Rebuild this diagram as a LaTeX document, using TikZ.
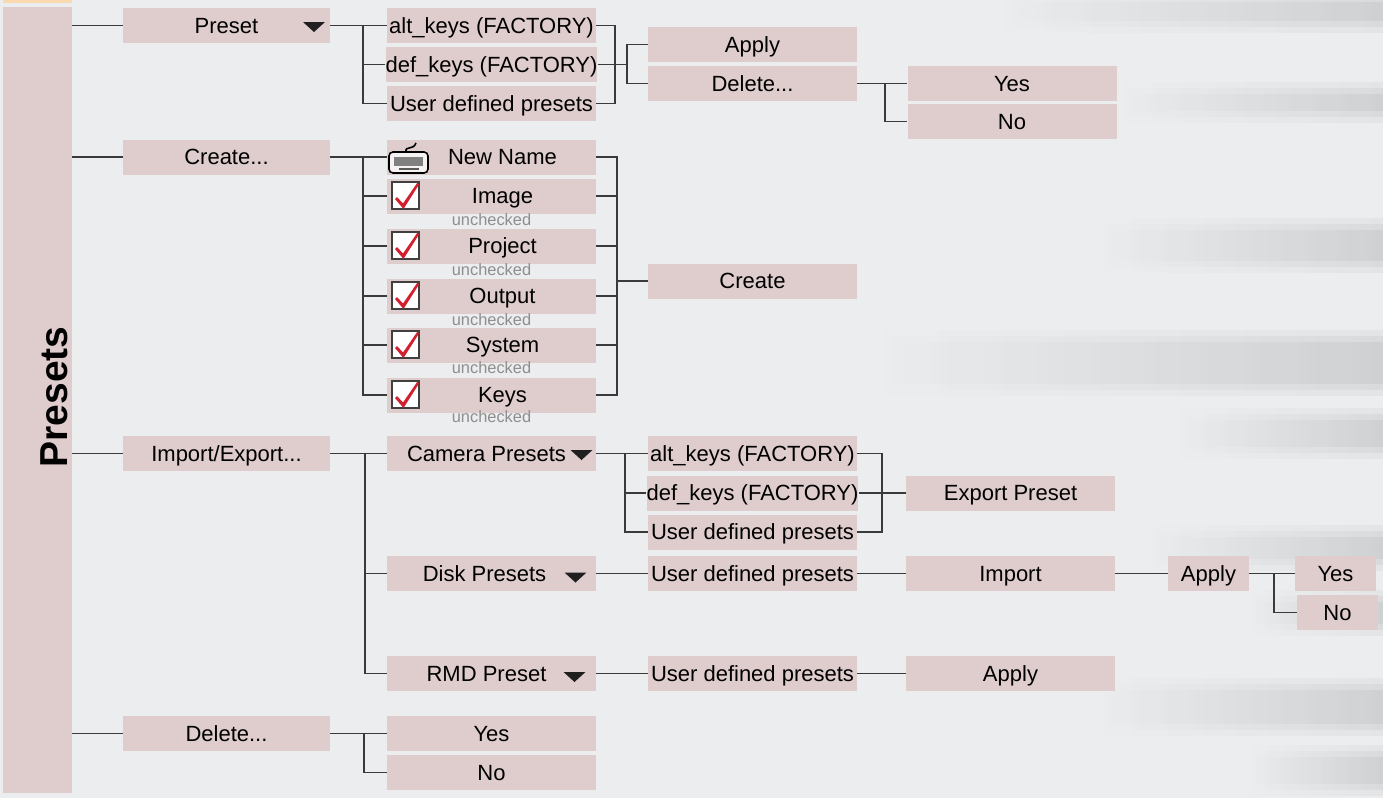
\documentclass[tikz,border=0pt]{standalone}
\usepackage{fontspec}
\setmainfont{Liberation Sans}
\usetikzlibrary{positioning}

\definecolor{boxpink}{HTML}{DFCCCD}
\definecolor{bg}{HTML}{ECEDEF}
\definecolor{streak}{HTML}{B4B5B7}
\definecolor{wirecol}{HTML}{3A3A3A}
\definecolor{notegray}{HTML}{8E8E8E}
\definecolor{checkred}{HTML}{D2202F}
\definecolor{peach}{HTML}{F8D9B0}

\tikzset{
  menubox/.style={fill=boxpink, minimum width=104.5pt, minimum height=17.5pt,
    inner sep=0pt, text height=9.5pt, text depth=2pt, font=\fontsize{11}{13}\selectfont},
  shortbox/.style={menubox, minimum width=40.5pt},
  wire/.style={draw=wirecol, line width=0.65pt},
  note/.style={font=\fontsize{8.2}{9}\selectfont, text=notegray, inner sep=0pt},
}

\begin{document}
\begin{tikzpicture}[x=0.5pt, y=-0.5pt]
\useasboundingbox (0,0) rectangle (1383,798);
\fill[bg] (0,0) rectangle (1383,798);

% streaks of the background
\foreach \xa/\ya/\yb in {1000/0/22, 1120/92/112, 1100/228/262, 880/340/385,
  1180/418/448, 1150/535/560, 1250/600/625, 1100/688/725, 1250/755/785}
{
	\shade[left color=bg, right color=streak, opacity=0.15] (\xa,{\ya-10}) rectangle (1383,{\yb+10});
	\shade[left color=bg, right color=streak, opacity=0.2] (\xa,{\ya-4}) rectangle (1383,{\yb+4});
	\shade[left color=bg, right color=streak, opacity=0.25] (\xa,{\ya+2}) rectangle (1383,{\yb-2});
}

% left column
\fill[peach] (3,0) rectangle (72,2.5);
\node[fill=boxpink, minimum width=34.5pt, minimum height=393pt, inner sep=0pt] (col) at (37.5,400) {};
\node[rotate=90, inner sep=0pt, font=\fontsize{19.5}{20}\selectfont\bfseries] (title) at (54,397) {Presets};

% first level
\def \la {226.5}
\node[menubox, minimum width=103.5pt] (pre) at (\la,25.5) {Preset};
\node[menubox, minimum width=103.5pt] (cre) at (\la,157) {Create...};
\node[menubox, minimum width=103.5pt] (imp) at (\la,453.5) {Import/Export...};
\node[menubox, minimum width=103.5pt] (dele) at (\la,733.5) {Delete...};

\foreach \n in {pre,cre,imp,dele}
	\draw[wire] (col.east |- \n.west) -- (\n.west);

% second level
\def \lb {491.5}
\node[menubox] (ak1) at (\lb,25.5) {alt\_keys (FACTORY)};
\node[menubox] (dk1) at (\lb,64.5) {def\_keys (FACTORY)};
\node[menubox] (ud1) at (\lb,103.5) {User defined presets};
\node[menubox] (nn) at (\lb,157) {\hspace*{11pt}New Name};
\node[menubox] (cam) at (\lb,453.5) {Camera Presets\hspace*{5pt}};
\node[menubox] (disk) at (\lb,573.5) {Disk Presets\hspace*{7pt}};
\node[menubox] (rmd) at (\lb,673.5) {RMD Preset\hspace*{5pt}};
\node[menubox] (yes1) at (\lb,733.5) {Yes};
\node[menubox] (no1) at (\lb,772.5) {No};

% third level
\def \lc {752.5}
\node[menubox] (app1) at (\lc,44.5) {Apply};
\node[menubox] (del2) at (\lc,83.5) {Delete...};
\node[menubox] (crt) at (\lc,281) {Create};
\node[menubox] (ak2) at (\lc,453.5) {alt\_keys (FACTORY)};
\node[menubox] (dk2) at (\lc,493) {def\_keys (FACTORY)};
\node[menubox] (ud2) at (\lc,532) {User defined presets};
\node[menubox] (ud3) at (\lc,573.5) {User defined presets};
\node[menubox] (ud4) at (\lc,673.5) {User defined presets};

% fourth level
\node[menubox] (yes2) at (1012,83.5) {Yes};
\node[menubox] (no2) at (1012,121.5) {No};
\node[menubox] (exp) at (1010.5,493) {Export Preset};
\node[menubox] (impt) at (1010.5,573.5) {Import};
\node[menubox] (app2) at (1010.5,673.5) {Apply};
\node[shortbox] (app3) at (1208.5,573.5) {Apply};
\node[shortbox] (yes3) at (1335.5,573.5) {Yes};
\node[shortbox] (no3) at (1337.5,612.5) {No};

% drop down marks
\foreach \x/\y in {314/27, 581.5/455, 575.5/577.5, 574.5/677}
	\fill[black!88] ({\x-11},{\y-5}) -- ({\x+11},{\y-5}) -- (\x,{\y+5}) -- cycle;

% keyboard
\draw[line width=0.8pt, fill=white!75!boxpink, rounded corners=2pt] (389,152) rectangle (428,173);
\fill[black!50] (394,157) rectangle (423,166);
\fill[black!65] (399,167.5) rectangle (419,169.5);
\draw[line width=0.8pt] (406,152) .. controls (405,145) and (413,151) .. (416,143);

% joints
\coordinate (j1) at (363,25.5);
\coordinate (m1) at (615,64.5);
\coordinate (m1b) at (627,64.5);
\coordinate (j3) at (885,83.5);
\coordinate (j2) at (363,157);
\coordinate (m2) at (617,281);
\coordinate (j4) at (365,453.5);
\coordinate (j5) at (625,453.5);
\coordinate (m3) at (882,493);
\coordinate (j6) at (1274,573.5);
\coordinate (j7) at (364,733.5);

% check list
\foreach \n/\y/\u in {Image/196/220, Project/246/270, Output/296/320, System/345/368, Keys/395/417}
{
	\node[menubox] (\n) at (\lb,\y) {\hspace*{11pt}\n};
	\node[note] (\n-u) at (\lb,\u) {unchecked};
	\draw[line width=0.8pt, draw=black!75, fill=white] (392,{\y-14}) rectangle (419,{\y+13});
	\fill[checkred] (395,{\y+3}) -- (397,{\y+1}) -- (403,{\y+7.5}) -- (417.5,{\y-13.5}) -- (419,{\y-11.5}) -- (403.5,{\y+13}) -- cycle;
	\draw[wire] (j2) |- (\n.west);
	\draw[wire] (\n.east) -| (m2);
}

% preset links
\draw[wire] (pre.east) -- (ak1.west);
\draw[wire] (j1) |- (dk1.west);
\draw[wire] (j1) |- (ud1.west);
\draw[wire] (ak1.east) -| (m1);
\draw[wire] (ud1.east) -| (m1);
\draw[wire] (dk1.east) -- (m1b);
\draw[wire] (m1b) |- (app1.west);
\draw[wire] (m1b) |- (del2.west);
\draw[wire] (del2.east) -- (yes2.west);
\draw[wire] (j3) |- (no2.west);

% create links
\draw[wire] (cre.east) -- (nn.west);
\draw[wire] (nn.east) -| (m2);
\draw[wire] (m2) -- (crt.west);

% import/export links
\draw[wire] (imp.east) -- (cam.west);
\draw[wire] (j4) |- (disk.west);
\draw[wire] (j4) |- (rmd.west);
\draw[wire] (cam.east) -- (ak2.west);
\draw[wire] (j5) |- (dk2.west);
\draw[wire] (j5) |- (ud2.west);
\draw[wire] (ak2.east) -| (m3);
\draw[wire] (ud2.east) -| (m3);
\draw[wire] (dk2.east) -- (exp.west);
\draw[wire] (disk.east) -- (ud3.west);
\draw[wire] (ud3.east) -- (impt.west);
\draw[wire] (impt.east) -- (app3.west);
\draw[wire] (app3.east) -- (yes3.west);
\draw[wire] (j6) |- (no3.west);
\draw[wire] (rmd.east) -- (ud4.west);
\draw[wire] (ud4.east) -- (app2.west);

% delete links
\draw[wire] (dele.east) -- (yes1.west);
\draw[wire] (j7) |- (no1.west);
\end{tikzpicture}
\end{document}
